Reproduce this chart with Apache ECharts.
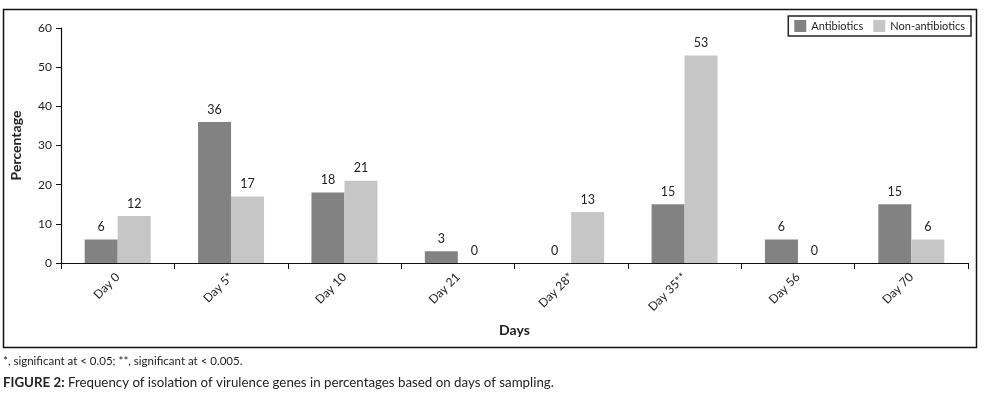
<!DOCTYPE html>
<html>
<head>
<meta charset="utf-8">
<script src="https://cdn.jsdelivr.net/npm/echarts@6/dist/echarts.min.js"></script>
<style>
html,body{margin:0;padding:0;background:#fff;}
#chart{width:987px;height:397px;}
</style>
</head>
<body>
<div id="chart"></div>
<script>
var categories = ['Day 0', 'Day 5*', 'Day 10', 'Day 21', 'Day 28*', 'Day 35**', 'Day 56', 'Day 70'];
var antibiotics = [6, 36, 18, 3, 0, 15, 6, 15];
var nonAntibiotics = [12, 17, 21, 0, 13, 53, 0, 6];
var seriesNames = ['Antibiotics', 'Non-antibiotics'];
var yTicks = {min: 0, max: 60, interval: 10};

var FONT = 'Lato, "Open Sans", sans-serif';
var chart = echarts.init(document.getElementById('chart'), null, {renderer: 'canvas'});
var labelStyle = {show: true, position: 'top', color: '#222', fontSize: 12.5, fontFamily: FONT, distance: 6};
chart.setOption({
  animation: false,
  backgroundColor: '#fff',
  grid: {left: 61, right: 19, top: 28, bottom: 134, containLabel: false},
  legend: {
    data: seriesNames,
    right: 16, top: 16,
    orient: 'horizontal',
    borderColor: '#222', borderWidth: 1.5, padding: [4, 6, 4, 6],
    itemWidth: 12, itemHeight: 12, itemGap: 10,
    icon: 'rect',
    textStyle: {fontFamily: FONT, fontSize: 11, color: '#222'}
  },
  xAxis: {
    type: 'category',
    data: categories,
    axisLine: {lineStyle: {color: '#111', width: 1.2}},
    axisTick: {show: true, inside: false, length: 6, lineStyle: {color: '#111'}},
    axisLabel: {rotate: 45, margin: 12, color: '#222', fontSize: 12, fontFamily: FONT},
    name: 'Days', nameLocation: 'middle', nameGap: 60,
    nameTextStyle: {fontWeight: 'bold', fontSize: 14, color: '#222', fontFamily: FONT}
  },
  yAxis: {
    type: 'value',
    min: yTicks.min, max: yTicks.max, interval: yTicks.interval,
    splitLine: {show: false},
    axisLine: {show: true, lineStyle: {color: '#111', width: 1.2}},
    axisTick: {show: true, length: 5, lineStyle: {color: '#111'}},
    axisLabel: {color: '#222', fontSize: 12, fontFamily: FONT, margin: 9},
    name: 'Percentage', nameLocation: 'middle', nameGap: 38, nameRotate: 90,
    nameTextStyle: {fontWeight: 'bold', fontSize: 14, color: '#222', fontFamily: FONT}
  },
  series: [
    {name: seriesNames[0], type: 'bar', data: antibiotics, barWidth: 33, barGap: '0%',
     itemStyle: {color: '#828282'}, label: labelStyle},
    {name: seriesNames[1], type: 'bar', data: nonAntibiotics, barWidth: 33, barGap: '0%',
     itemStyle: {color: '#c6c6c6'}, label: labelStyle}
  ],
  graphic: [
    {type: 'rect', shape: {x: 3.5, y: 9.5, width: 973, height: 338}, style: {fill: 'none', stroke: '#111', lineWidth: 1.5}, silent: true},
    {type: 'text', left: 3, top: 355, style: {text: '*, significant at < 0.05; **, significant at < 0.005.', font: '11.5px ' + FONT, fill: '#222'}},
    {type: 'text', left: 3, top: 376, style: {
      text: '{b|FIGURE 2:} Frequency of isolation of virulence genes in percentages based on days of sampling.',
      font: '13.3px ' + FONT, fill: '#222',
      rich: {b: {fontWeight: 'bold', fontSize: 13.3, fontFamily: FONT, fill: '#222'}}
    }}
  ]
});
</script>
</body>
</html>
